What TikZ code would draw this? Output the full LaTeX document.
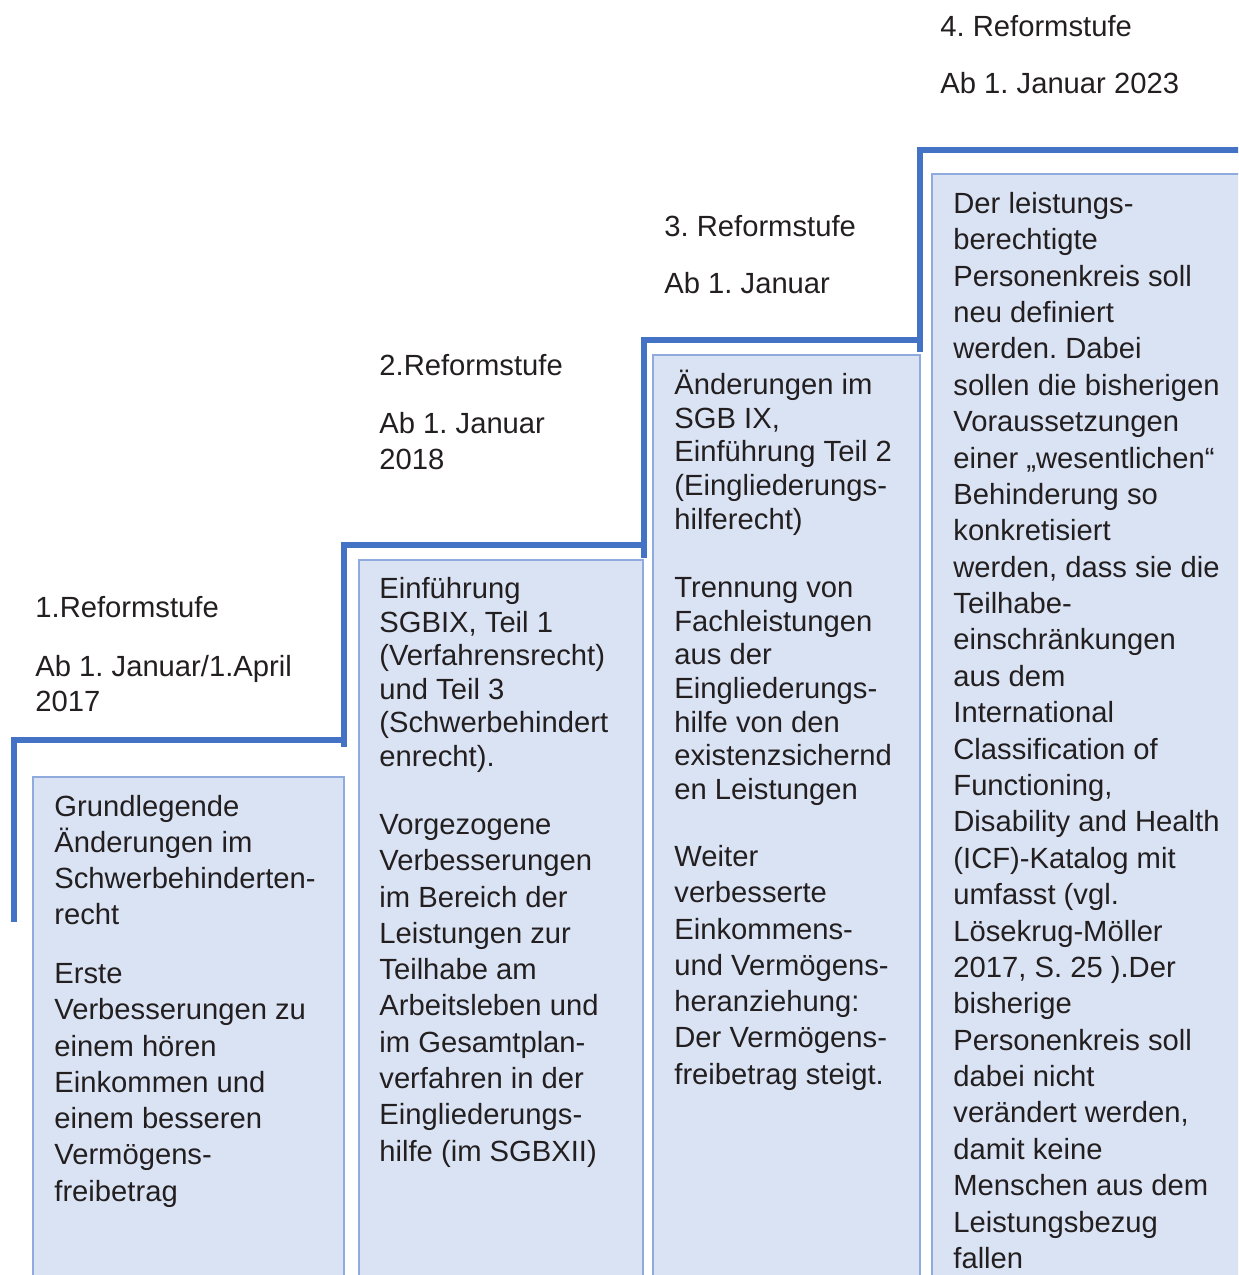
\documentclass[tikz,border=0pt]{standalone}
\usepackage{fontspec}
\setmainfont{Liberation Sans}
\frenchspacing
\definecolor{stair}{HTML}{4472C4}
\definecolor{panelborder}{HTML}{8FAADC}
\definecolor{panelfill}{HTML}{DAE3F3}
\definecolor{ink}{HTML}{231F20}
% invisible rule that fixes the height of the first line of every text block
\newcommand\firstline{\rule{0pt}{15pt}}
\begin{document}
\begin{tikzpicture}[x=0.5pt,y=-0.5pt,
  stairline/.style={draw=stair, line width=3pt, line join=miter},
  panel/.style={draw=panelborder, fill=panelfill, line width=1pt},
  txt/.style={anchor=north west, inner sep=0pt, align=left, text=ink,
              font={\fontsize{14.6}{#1}\selectfont}},
  txt/.default=18.2]
\clip (0,0) rectangle (1238,1275);

% panels
\draw[panel] (33,777) rectangle (344,1290);
\draw[panel] (359,560) rectangle (643,1290);
\draw[panel] (653,355) rectangle (920,1290);
\draw[panel] (932,174) rectangle (1260,1290);

% staircase
\draw[stairline] (14,922) -- (14,740) -- (344,740);
\draw[stairline] (344,747) -- (344,545) -- (644,545);
\draw[stairline] (644,558) -- (644,340) -- (920,340);
\draw[stairline] (920,352) -- (920,150) -- (1245,150);

% stage labels
\node[txt] (l1a) at (35,587) {\firstline 1.Reformstufe};
\node[txt=17.5] (l1b) at (35,646) {\firstline Ab 1. Januar/1.April\\2017};
\node[txt] (l2a) at (379,345) {\firstline 2.Reformstufe};
\node[txt=18] (l2b) at (379,403) {\firstline Ab 1. Januar\\2018};
\node[txt] (l3a) at (664,206) {\firstline 3. Reformstufe};
\node[txt] (l3b) at (664,263) {\firstline Ab 1. Januar};
\node[txt] (l4a) at (940,6) {\firstline 4. Reformstufe};
\node[txt] (l4b) at (940,63) {\firstline Ab 1. Januar 2023};

% panel 1
\node[txt=18] (b1a) at (54,786) {\firstline Grundlegende\\Änderungen im\\Schwerbehinderten-\\recht};
\node[txt=18.15] (b1b) at (54,953) {\firstline Erste\\Verbesserungen zu\\einem hören\\Einkommen und\\einem besseren\\Vermögens-\\freibetrag};

% panel 2
\node[txt=16.8] (b2a) at (379,568) {\firstline Einführung\\SGBIX, Teil 1\\(Verfahrensrecht)\\und Teil 3\\(Schwerbehindert\\enrecht).};
\node[txt=18.15] (b2b) at (379,804) {\firstline Vorgezogene\\Verbesserungen\\im Bereich der\\Leistungen zur\\Teilhabe am\\Arbeitsleben und\\im Gesamtplan-\\verfahren in der\\Eingliederungs-\\hilfe (im SGBXII)};

% panel 3
\node[txt=16.875] (b3a) at (674,364) {\firstline Änderungen im\\SGB IX,\\Einführung Teil 2\\(Eingliederungs-\\hilferecht)};
\node[txt=16.84] (b3b) at (674,567) {\firstline Trennung von\\Fachleistungen\\aus der\\Eingliederungs-\\hilfe von den\\existenzsichernd\\en Leistungen};
\node[txt=18.15] (b3c) at (674,836) {\firstline Weiter\\verbesserte\\Einkommens-\\und Vermögens-\\heranziehung:\\Der Vermögens-\\freibetrag steigt.};

% panel 4
\node[txt=18.19] (b4) at (953,183) {\firstline Der leistungs-\\berechtigte\\Personenkreis soll\\neu definiert\\werden. Dabei\\sollen die bisherigen\\Voraussetzungen\\einer „wesentlichen“\\Behinderung so\\konkretisiert\\werden, dass sie die\\Teilhabe-\\einschränkungen\\aus dem\\International\\Classification of\\Functioning,\\Disability and Health\\(ICF)-Katalog mit\\umfasst (vgl.\\Lösekrug-Möller\\2017, S. 25 ).Der\\bisherige\\Personenkreis soll\\dabei nicht\\verändert werden,\\damit keine\\Menschen aus dem\\Leistungsbezug\\fallen};
\end{tikzpicture}
\end{document}
